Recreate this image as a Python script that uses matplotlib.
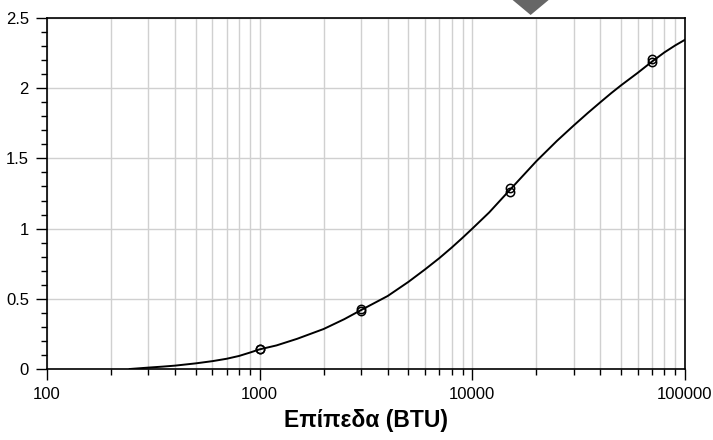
import matplotlib
matplotlib.use("Agg")
import matplotlib.pyplot as plt
from matplotlib.ticker import LogLocator, FixedLocator, MultipleLocator, FuncFormatter
from matplotlib.patches import Polygon

plt.rcParams['font.family'] = ['Liberation Sans', 'DejaVu Sans']

# fitted curve
curve_x = [245, 300, 350, 400, 500, 600, 700, 800, 900, 1000, 1200, 1500, 2000, 2500,
           3000, 4000, 5000, 6000, 7000, 8000, 9000, 10000, 12000, 15000, 20000,
           25000, 30000, 35000, 40000, 45000, 50000, 60000, 70000, 80000, 90000, 100000]
curve_y = [0.0, 0.01, 0.017, 0.024, 0.04, 0.056, 0.073, 0.093, 0.117, 0.14, 0.168,
           0.215, 0.285, 0.355, 0.42, 0.52, 0.62, 0.71, 0.79, 0.865, 0.935, 1.0,
           1.115, 1.275, 1.48, 1.625, 1.735, 1.825, 1.90, 1.965, 2.02, 2.11, 2.19,
           2.255, 2.305, 2.345]

# measured standards (duplicates)
std_x = [1000, 1000, 3000, 3000, 15000, 15000, 70000, 70000]
std_y = [0.14, 0.145, 0.41, 0.43, 1.26, 1.29, 2.19, 2.21]

marker_x = 18800
x_label = "Επίπεδα (BTU)"

fig = plt.figure(figsize=(7.13, 4.4), dpi=100)
ax = fig.add_axes([47/713, 1-369/440, 638/713, 351/440])

ax.plot(curve_x, curve_y, color='black', lw=1.4, zorder=3)
ax.plot(std_x, std_y, 'o', mfc='none', mec='black', ms=6, mew=1.1, zorder=4)

ax.set_xscale('log')
ax.set_xlim(100, 100000)
ax.set_ylim(0, 2.5)
ax.xaxis.set_major_locator(FixedLocator([100, 1000, 10000, 100000]))
ax.xaxis.set_minor_locator(LogLocator(base=10, subs=range(2, 10)))
ax.xaxis.set_major_formatter(FuncFormatter(lambda v, p: "%d" % v))
ax.xaxis.set_minor_formatter(FuncFormatter(lambda v, p: ""))
ax.yaxis.set_major_locator(MultipleLocator(0.5))
ax.yaxis.set_minor_locator(MultipleLocator(0.1))
ax.yaxis.set_major_formatter(FuncFormatter(lambda v, p: ("%g" % v)))

ax.grid(True, which='both', axis='x', color='#d0d0d0', lw=1)
ax.grid(True, which='major', axis='y', color='#d0d0d0', lw=1)
ax.set_axisbelow(True)

ax.tick_params(which='major', direction='out', length=8, width=1, labelsize=12,
               color='black', pad=5)
ax.tick_params(which='minor', direction='out', length=4, width=1, color='black')
for s in ax.spines.values():
    s.set_linewidth(1.2)
    s.set_color('black')

ax.set_xlabel(x_label, fontsize=16.5, fontweight='bold', labelpad=5)

# grey indicator at the top
cx = ax.transData.transform((marker_x, 1))[0]
H = 440
tri = Polygon([(cx - 18, H), (cx + 18, H), (cx, H - 15)], closed=True,
              facecolor='#666666', edgecolor='none', transform=None)
fig.patches.append(tri)

fig.savefig("out.png", dpi=100)
